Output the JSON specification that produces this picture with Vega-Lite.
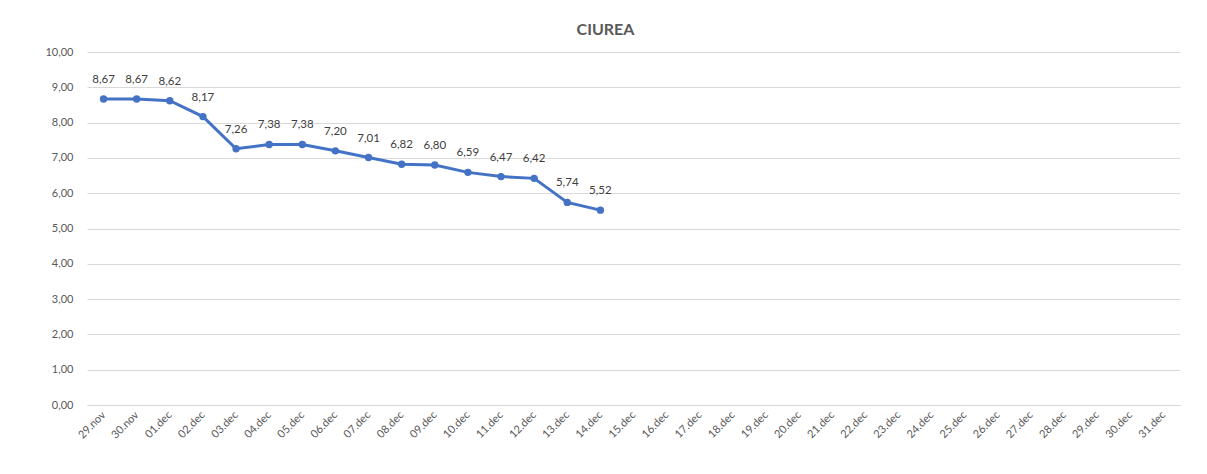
{
  "$schema": "https://vega.github.io/schema/vega-lite/v6.json",
  "width": 1093,
  "height": 353,
  "autosize": {"type": "none"},
  "padding": {"left": 87, "top": 52, "right": 27, "bottom": 69},
  "background": "white",
  "config": {
    "font": "Lato",
    "locale": {"number": {"decimal": ",", "thousands": ".", "grouping": [3], "currency": ["", " €"]}},
    "view": {"stroke": null},
    "axis": {"labelColor": "#595959", "labelFont": "Lato", "labelFontSize": 11, "titleColor": "#595959"}
  },
  "title": {
    "text": "CIUREA",
    "fontSize": 16,
    "fontWeight": "bold",
    "color": "#595959",
    "font": "Lato",
    "offset": 8,
    "dx": -28
  },
  "data": {
    "values": [
      {"date": "29.nov", "value": 8.67},
      {"date": "30.nov", "value": 8.67},
      {"date": "01.dec", "value": 8.62},
      {"date": "02.dec", "value": 8.17},
      {"date": "03.dec", "value": 7.26},
      {"date": "04.dec", "value": 7.38},
      {"date": "05.dec", "value": 7.38},
      {"date": "06.dec", "value": 7.20},
      {"date": "07.dec", "value": 7.01},
      {"date": "08.dec", "value": 6.82},
      {"date": "09.dec", "value": 6.80},
      {"date": "10.dec", "value": 6.59},
      {"date": "11.dec", "value": 6.47},
      {"date": "12.dec", "value": 6.42},
      {"date": "13.dec", "value": 5.74},
      {"date": "14.dec", "value": 5.52}
    ]
  },
  "encoding": {
    "x": {
      "field": "date",
      "type": "ordinal",
      "sort": null,
      "scale": {
        "domain": ["29.nov","30.nov","01.dec","02.dec","03.dec","04.dec","05.dec","06.dec","07.dec","08.dec","09.dec","10.dec","11.dec","12.dec","13.dec","14.dec","15.dec","16.dec","17.dec","18.dec","19.dec","20.dec","21.dec","22.dec","23.dec","24.dec","25.dec","26.dec","27.dec","28.dec","29.dec","30.dec","31.dec"],
        "type": "point",
        "padding": 0.5
      },
      "axis": {
        "title": null,
        "labelAngle": -45,
        "labelAlign": "right",
        "labelBaseline": "middle",
        "labelPadding": 8,
        "ticks": false,
        "domainColor": "#d9d9d9",
        "domainWidth": 1,
        "grid": false
      }
    },
    "y": {
      "field": "value",
      "type": "quantitative",
      "scale": {"domain": [0, 10], "nice": false},
      "axis": {
        "title": null,
        "values": [0,1,2,3,4,5,6,7,8,9,10],
        "format": ".2f",
        "domain": false,
        "ticks": false,
        "labelPadding": 14,
        "gridColor": "#d9d9d9",
        "gridWidth": 1
      }
    }
  },
  "layer": [
    {
      "mark": {"type": "line", "color": "#4472C4", "strokeWidth": 3, "point": {"filled": true, "size": 55, "color": "#4472C4"}}
    },
    {
      "mark": {"type": "text", "dy": -19, "fontSize": 11.5, "color": "#404040", "font": "Lato"},
      "encoding": {"text": {"field": "value", "type": "quantitative", "format": ".2f"}}
    }
  ]
}
